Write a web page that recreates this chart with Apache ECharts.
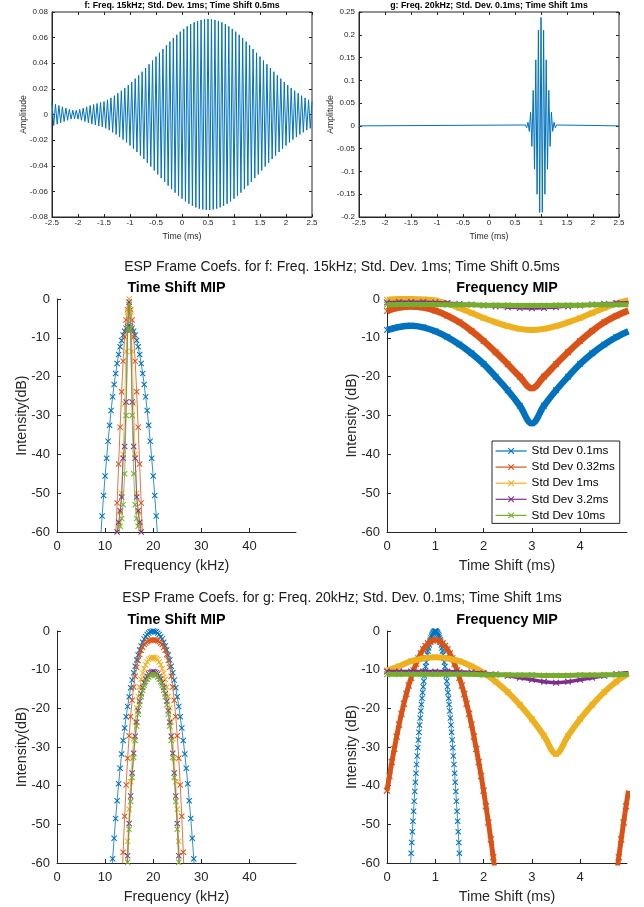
<!DOCTYPE html>
<html>
<head>
<meta charset="utf-8">
<title>ESP Frame Coefs</title>
<script src="https://cdn.jsdelivr.net/npm/echarts@6.0.0/dist/echarts.min.js"></script>
<style>
  html, body { margin: 0; padding: 0; background: #fff; }
  #chart { width: 644px; height: 907px; }
</style>
</head>
<body>
<div id="chart"></div>
<script>
// ---- values ----

// f: 15 kHz atom, one value per half cycle (the peaks), t = -2.5 .. 2.5 ms
const fSignalStart = -2.5;
const fSignalStep = 1 / 30;
const fSignal = [
  0.0092, -0.0086, 0.0080, -0.0075, 0.0070, -0.0065, 0.0060, -0.0055, 0.0050, -0.0045,
  0.0040, -0.0036, 0.0033, -0.0032, 0.0033, -0.0036, 0.0040, -0.0045, 0.0050, -0.0055,
  0.0060, -0.0065, 0.0070, -0.0074, 0.0078, -0.0082, 0.0086, -0.0090, 0.0094, -0.0098,
  0.0101, -0.0108, 0.0115, -0.0122, 0.0130, -0.0139, 0.0147, -0.0156, 0.0166, -0.0176,
  0.0186, -0.0196, 0.0207, -0.0218, 0.0230, -0.0242, 0.0254, -0.0267, 0.0280, -0.0293,
  0.0306, -0.0320, 0.0334, -0.0348, 0.0363, -0.0377, 0.0392, -0.0406, 0.0421, -0.0437,
  0.0452, -0.0467, 0.0482, -0.0497, 0.0511, -0.0526, 0.0541, -0.0555, 0.0569, -0.0583,
  0.0597, -0.0610, 0.0622, -0.0634, 0.0646, -0.0657, 0.0668, -0.0678, 0.0688, -0.0697,
  0.0705, -0.0712, 0.0719, -0.0725, 0.0730, -0.0735, 0.0738, -0.0741, 0.0743, -0.0745,
  0.0745,
  -0.0745, 0.0743, -0.0741, 0.0738, -0.0735, 0.0730, -0.0725, 0.0719, -0.0712, 0.0705,
  -0.0697, 0.0688, -0.0678, 0.0668, -0.0657, 0.0646, -0.0634, 0.0622, -0.0610, 0.0597,
  -0.0583, 0.0569, -0.0555, 0.0541, -0.0526, 0.0511, -0.0497, 0.0482, -0.0467, 0.0452,
  -0.0437, 0.0421, -0.0406, 0.0392, -0.0377, 0.0363, -0.0348, 0.0334, -0.0320, 0.0306,
  -0.0293, 0.0280, -0.0267, 0.0254, -0.0242, 0.0230, -0.0218, 0.0207, -0.0196, 0.0186,
  -0.0176, 0.0166, -0.0156, 0.0147, -0.0139, 0.0130, -0.0122, 0.0115, -0.0108, 0.0101
];

// g: 20 kHz burst around 1 ms, flat zero elsewhere
const gQuiet = [[-2.5, 0], [2.5, 0]];
const gBurstStart = 0.7;
const gBurstStep = 0.025;
const gBurst = [
  0.002, -0.004, 0.008, -0.012, 0.03, -0.045, 0.078, -0.095, 0.145, -0.15, 0.21, -0.19,
  0.238,
  -0.19, 0.21, -0.15, 0.145, -0.095, 0.078, -0.045, 0.03, -0.012, 0.008, -0.004, 0.002
];

const stdDevNames = ['Std Dev 0.1ms', 'Std Dev 0.32ms', 'Std Dev 1ms', 'Std Dev 3.2ms', 'Std Dev 10ms'];
const stdDevColors = ['#0072BD', '#D95319', '#EDB120', '#7E2F8E', '#77AC30'];

// frequency bins in kHz
const freqBin = 0.3125;

// Time Shift MIP for f (dB), each array starts at its own frequency bin
const fTsStartBin = [29, 39, 40, 39, 41];
const fTsStd01 = [-61.5, -55.9, -50.6, -45.6, -41.0, -36.6, -32.5, -28.7, -25.2, -22.0, -19.2, -16.6, -14.3, -12.3, -10.7, -9.3, -8.3, -7.5, -7.1,
  -6.9, -7.1, -7.5, -8.3, -9.3, -10.7, -12.3, -14.3, -16.6, -19.2, -22.0, -25.2, -28.7, -32.5, -36.6, -41.0, -45.6, -50.6, -55.9, -61.5];
const fTsStd032 = [-62, -52.5, -42.5, -33.0, -23.9, -16.0, -9.8, -5.4, -2.8, -1.9, -2.8, -5.4, -9.8, -16.0, -23.9, -33.0, -42.5, -52.5, -62];
const fTsStd1 = [-61, -58, -55, -50, -40, -27, -13.5, -3.4, 0, -3.4, -13.5, -27, -40, -50, -55, -58, -61];
const fTsStd32 = [-62, -60, -57.5, -54.5, -51, -41, -38, -26.5, -8, -0.8, -8, -26.5, -38, -41, -51, -54.5, -57.5, -60, -62];
const fTsStd10 = [-61, -58.5, -56.5, -53, -45, -30, -7.8, -1.4, -7.8, -30, -45, -53, -56.5, -58.5, -61];

// Frequency MIP for f (dB), time shift 0 .. 5 ms every 0.25 ms
const fFmStart = 0;
const fFmStep = 0.25;
const fFmStd01 = [-8.0, -7.2, -6.9, -7.3, -8.3, -9.8, -11.7, -14.0, -16.7, -20.0, -23.5, -27.5, -32.0, -27.5, -23.5, -20.0, -16.7, -14.0, -11.7, -9.8, -8.3];
const fFmStd032 = [-3.1, -2.2, -1.9, -2.2, -3.0, -4.3, -6.0, -8.2, -10.8, -13.7, -16.8, -20.0, -23.0, -20.0, -16.8, -13.7, -10.8, -8.2, -6.0, -4.3, -3.0];
const fFmStd1 = [-0.2, 0.0, 0.0, -0.1, -0.4, -1.2, -2.3, -3.6, -4.9, -6.0, -7.0, -7.7, -8.0, -7.7, -7.0, -6.0, -4.9, -3.6, -2.3, -1.2, -0.3];
const fFmStd32 = [-0.9, -0.8, -0.8, -0.8, -0.9, -1.0, -1.2, -1.4, -1.7, -1.9, -2.1, -2.3, -2.4, -2.3, -2.1, -1.9, -1.7, -1.4, -1.2, -1.0, -0.9];
const fFmStd10 = [-1.5, -1.4, -1.4, -1.4, -1.4, -1.5, -1.5, -1.5, -1.6, -1.6, -1.6, -1.7, -1.7, -1.7, -1.6, -1.6, -1.6, -1.5, -1.5, -1.5, -1.5];

// Time Shift MIP for g (dB)
const gTsStartBin = [36, 43, 46, 46, 46];
const gTsStd01 = [-64.7, -58.9, -53.6, -48.5, -43.9, -39.5, -35.5, -31.8, -28.3, -25.1, -22.2, -19.5, -17.0, -14.7, -12.7, -10.8, -9.1, -7.5, -6.2, -4.9, -3.9, -2.9, -2.1, -1.5, -0.9, -0.5, -0.2, -0.1,
  0,
  -0.1, -0.2, -0.5, -0.9, -1.5, -2.1, -2.9, -3.9, -4.9, -6.2, -7.5, -9.1, -10.8, -12.7, -14.7, -17.0, -19.5, -22.2, -25.1, -28.3, -31.8, -35.5, -39.5, -43.9, -48.5, -53.6, -58.9, -64.7];
const gTsStd032 = [-68.0, -57.2, -47.9, -39.8, -32.9, -27.1, -22.1, -17.9, -14.5, -11.7, -9.4, -7.6, -6.1, -5.0, -4.2, -3.5, -3.1, -2.8, -2.5, -2.4, -2.3,
  -2.3,
  -2.3, -2.4, -2.5, -2.8, -3.1, -3.5, -4.2, -5.0, -6.1, -7.6, -9.4, -11.7, -14.5, -17.9, -22.1, -27.1, -32.9, -39.8, -47.9, -57.2, -68.0];
const gTsStd1 = [-64.0, -54.4, -46.1, -39.0, -33.0, -27.9, -23.5, -19.9, -16.9, -14.5, -12.5, -10.9, -9.7, -8.7, -8.0, -7.4, -7.1, -6.9,
  -6.8,
  -6.9, -7.1, -7.4, -8.0, -8.7, -9.7, -10.9, -12.5, -14.5, -16.9, -19.9, -23.5, -27.9, -33.0, -39.0, -46.1, -54.4, -64.0];
const gTsStd32 = [-67.7, -58.1, -49.8, -42.7, -36.7, -31.6, -27.2, -23.6, -20.6, -18.2, -16.2, -14.6, -13.4, -12.4, -11.7, -11.1, -10.8, -10.6,
  -10.5,
  -10.6, -10.8, -11.1, -11.7, -12.4, -13.4, -14.6, -16.2, -18.2, -20.6, -23.6, -27.2, -31.6, -36.7, -42.7, -49.8, -58.1, -67.7];
const gTsStd10 = [-69.5, -59.8, -51.3, -44.1, -37.9, -32.7, -28.3, -24.6, -21.5, -19.1, -17.0, -15.4, -14.1, -13.1, -12.4, -11.9, -11.5, -11.3,
  -11.2,
  -11.3, -11.5, -11.9, -12.4, -13.1, -14.1, -15.4, -17.0, -19.1, -21.5, -24.6, -28.3, -32.7, -37.9, -44.1, -51.3, -59.8, -69.5];

// Frequency MIP for g (dB)
const gFmStd01Start = 0.475;
const gFmStd01Step = 0.0125;
const gFmStd01 = [-63.4, -60.4, -57.5, -54.7, -51.9, -49.2, -46.6, -44.0, -41.5, -39.1, -36.8, -34.5, -32.3, -30.2, -28.2, -26.2, -24.3, -22.5, -20.7, -19.0, -17.4,
  -15.9, -14.4, -13.0, -11.6, -10.4, -9.2, -8.1, -7.0, -6.1, -5.2, -4.4, -3.6, -2.9, -2.3, -1.8, -1.3, -0.9, -0.6, -0.3, -0.1, -0.04,
  0,
  -0.04, -0.1, -0.3, -0.6, -0.9, -1.3, -1.8, -2.3, -2.9, -3.6, -4.4, -5.2, -6.1, -7.0, -8.1, -9.2, -10.4, -11.6, -13.0, -14.4, -15.9,
  -17.4, -19.0, -20.7, -22.5, -24.3, -26.2, -28.2, -30.2, -32.3, -34.5, -36.8, -39.1, -41.5, -44.0, -46.6, -49.2, -51.9, -54.7, -57.5, -60.4, -63.4];
const gFmStd032Step = 0.05;
const gFmStd032Head = [-41.3, -37.5, -33.9, -30.5, -27.3, -24.2, -21.4, -18.8, -16.3, -14.1, -12.1, -10.2, -8.5, -7.1, -5.8, -4.7, -3.9, -3.2, -2.7, -2.4,
  -2.3,
  -2.4, -2.7, -3.2, -3.9, -4.7, -5.8, -7.1, -8.5, -10.2, -12.1, -14.1, -16.3, -18.8, -21.4, -24.2, -27.3, -30.5, -33.9, -37.5, -41.3,
  -45.3, -49.5, -53.9, -58.5, -63.2];
const gFmStd032TailStart = 4.75;
const gFmStd032Tail = [-63.2, -58.5, -53.9, -49.5, -45.3, -41.3];
const gFmStart = 0;
const gFmStep = 0.25;
const gFmStd1 = [-10.2, -9.1, -7.8, -7.1, -6.8, -7.1, -7.8, -9.1, -10.8, -13.1, -15.8, -19.1, -22.8, -27.1, -31.8, -27.1, -22.8, -19.1, -15.8, -13.1, -11.0];
const gFmStd32 = [-10.5, -10.5, -10.5, -10.5, -10.5, -10.5, -10.6, -10.7, -10.9, -11.2, -11.6, -12.1, -12.6, -13.1, -13.4, -13.1, -12.6, -12.1, -11.6, -11.1, -10.7];
const gFmStd10 = [-11.2, -11.2, -11.2, -11.2, -11.2, -11.2, -11.2, -11.2, -11.3, -11.3, -11.3, -11.4, -11.4, -11.5, -11.5, -11.5, -11.4, -11.4, -11.3, -11.3, -11.2];

// tick labels
const sigTimeTicks = [-2.5, -2, -1.5, -1, -0.5, 0, 0.5, 1, 1.5, 2, 2.5];
const fAmpTicks = [-0.08, -0.06, -0.04, -0.02, 0, 0.02, 0.04, 0.06, 0.08];
const gAmpTicks = [-0.2, -0.15, -0.1, -0.05, 0, 0.05, 0.1, 0.15, 0.2, 0.25];
const freqTicks = [0, 10, 20, 30, 40];
const shiftTicks = [0, 1, 2, 3, 4];
const dbTicks = [-60, -50, -40, -30, -20, -10, 0];

// ---- chart ----
const AXIS_COLOR = '#262626';
const FONT = '"Liberation Sans", Arial, Helvetica, sans-serif';
const X_MARK = 'path://M0,1.2L1.2,0L5,3.8L8.8,0L10,1.2L6.2,5L10,8.8L8.8,10L5,6.2L1.2,10L0,8.8L3.8,5Z';

const onGrid = (start, step, values) => values.map((v, i) => [+(start + i * step).toFixed(6), v]);
const onBins = (startBin, values) => onGrid(startBin * freqBin, freqBin, values);

function axis(o) {
  return {
    type: 'value',
    gridIndex: o.grid,
    position: o.position,
    min: o.min,
    max: o.max,
    name: o.name || '',
    nameLocation: 'middle',
    nameGap: o.nameGap,
    nameMoveOverlap: false,
    nameTextStyle: { color: AXIS_COLOR, fontFamily: FONT, fontSize: o.nameSize },
    axisLine: { show: o.line !== false, onZero: false, lineStyle: { color: AXIS_COLOR, width: 1 } },
    axisTick: { show: true, inside: true, length: o.tick, customValues: o.ticks, lineStyle: { color: AXIS_COLOR } },
    axisLabel: {
      show: o.labels !== false, customValues: o.ticks, color: AXIS_COLOR,
      fontFamily: FONT, fontSize: o.labelSize, margin: o.margin, hideOverlap: false
    },
    splitLine: { show: false }
  };
}

function mip(panel, k, data, look) {
  const color = stdDevColors[k];
  return {
    name: stdDevNames[k],
    type: 'line',
    xAxisIndex: panel,
    yAxisIndex: panel,
    data: data,
    symbol: X_MARK,
    symbolSize: look.mark || 6,
    symbolKeepAspect: true,
    showSymbol: true,
    smooth: look.smooth || false,
    lineStyle: { color: color, width: look.width || 0.8 },
    itemStyle: { color: color, borderWidth: 0 },
    emphasis: { disabled: true },
    z: 2 + k
  };
}

function text(x, y, str, size, bold, color) {
  return {
    type: 'text', x: x, y: y, silent: true,
    style: {
      text: str, fill: color || '#000',
      font: (bold ? 'bold ' : '') + size + 'px ' + FONT,
      textAlign: 'center', align: 'center', textVerticalAlign: 'middle', verticalAlign: 'middle'
    }
  };
}

const grids = [
  { left: 52, top: 12, width: 260, height: 205, show: true, borderColor: AXIS_COLOR, borderWidth: 1 },
  { left: 359, top: 12, width: 260, height: 205, show: true, borderColor: AXIS_COLOR, borderWidth: 1 },
  { left: 57, top: 299, width: 239, height: 233 },
  { left: 387, top: 299, width: 240, height: 233 },
  { left: 57, top: 631, width: 239, height: 232 },
  { left: 387, top: 631, width: 240, height: 232 }
].map(g => Object.assign({ outerBoundsMode: 'none', containLabel: false }, g));

const small = { nameSize: 8.7, labelSize: 8, tick: 3 };
const big = { nameSize: 14.3, labelSize: 13, tick: 4 };

const xAxes = [
  axis(Object.assign({ grid: 0, position: 'bottom', min: -2.5, max: 2.5, ticks: sigTimeTicks, name: 'Time (ms)', nameGap: 15, margin: 2 }, small)),
  axis(Object.assign({ grid: 1, position: 'bottom', min: -2.5, max: 2.5, ticks: sigTimeTicks, name: 'Time (ms)', nameGap: 15, margin: 2 }, small)),
  axis(Object.assign({ grid: 2, position: 'bottom', min: 0, max: 49.6875, ticks: freqTicks, name: 'Frequency (kHz)', nameGap: 27, margin: 8 }, big)),
  axis(Object.assign({ grid: 3, position: 'bottom', min: 0, max: 4.97, ticks: shiftTicks, name: 'Time Shift (ms)', nameGap: 27, margin: 8 }, big)),
  axis(Object.assign({ grid: 4, position: 'bottom', min: 0, max: 49.6875, ticks: freqTicks, name: 'Frequency (kHz)', nameGap: 27, margin: 8 }, big)),
  axis(Object.assign({ grid: 5, position: 'bottom', min: 0, max: 4.97, ticks: shiftTicks, name: 'Time Shift (ms)', nameGap: 27, margin: 8 }, big)),
  axis(Object.assign({ grid: 0, position: 'top', min: -2.5, max: 2.5, ticks: sigTimeTicks, line: false, labels: false }, small)),
  axis(Object.assign({ grid: 1, position: 'top', min: -2.5, max: 2.5, ticks: sigTimeTicks, line: false, labels: false }, small))
];

const yAxes = [
  axis(Object.assign({ grid: 0, position: 'left', min: -0.08, max: 0.08, ticks: fAmpTicks, name: 'Amplitude', nameGap: 24, margin: 4 }, small)),
  axis(Object.assign({ grid: 1, position: 'left', min: -0.2, max: 0.25, ticks: gAmpTicks, name: 'Amplitude', nameGap: 24, margin: 4 }, small)),
  axis(Object.assign({ grid: 2, position: 'left', min: -60, max: 0, ticks: dbTicks, name: 'Intensity(dB)', nameGap: 28, margin: 7 }, big)),
  axis(Object.assign({ grid: 3, position: 'left', min: -60, max: 0, ticks: dbTicks, name: 'Intensity (dB)', nameGap: 28, margin: 7 }, big)),
  axis(Object.assign({ grid: 4, position: 'left', min: -60, max: 0, ticks: dbTicks, name: 'Intensity(dB)', nameGap: 28, margin: 7 }, big)),
  axis(Object.assign({ grid: 5, position: 'left', min: -60, max: 0, ticks: dbTicks, name: 'Intensity (dB)', nameGap: 28, margin: 7 }, big)),
  axis(Object.assign({ grid: 0, position: 'right', min: -0.08, max: 0.08, ticks: fAmpTicks, line: false, labels: false }, small)),
  axis(Object.assign({ grid: 1, position: 'right', min: -0.2, max: 0.25, ticks: gAmpTicks, line: false, labels: false }, small))
];

const signalLine = { type: 'line', symbol: 'none', lineStyle: { color: '#0072BD', width: 1 }, itemStyle: { color: '#0072BD' }, emphasis: { disabled: true }, legendHoverLink: false };

const fTsArrays = [fTsStd01, fTsStd032, fTsStd1, fTsStd32, fTsStd10];
const fFmArrays = [fFmStd01, fFmStd032, fFmStd1, fFmStd32, fFmStd10];
const gTsArrays = [gTsStd01, gTsStd032, gTsStd1, gTsStd32, gTsStd10];

const bandWidthsF = [6.5, 6.5, 6, 3, 5];

const series = [];
// middle-left first so that the legend takes its thin line + cross style
fTsArrays.forEach((vals, k) => series.push(mip(2, k, onBins(fTsStartBin[k], vals), {})));
fFmArrays.forEach((vals, k) => series.push(mip(3, k, onGrid(fFmStart, fFmStep, vals), { width: bandWidthsF[k], mark: 6.5, smooth: 0.4 })));
gTsArrays.forEach((vals, k) => series.push(mip(4, k, onBins(gTsStartBin[k], vals), {})));
series.push(mip(5, 0, onGrid(gFmStd01Start, gFmStd01Step, gFmStd01), {}));
series.push(mip(5, 1, onGrid(0, gFmStd032Step, gFmStd032Head).concat([[3.5, '-']], onGrid(gFmStd032TailStart, gFmStd032Step, gFmStd032Tail)), { width: 5, mark: 7 }));
series.push(mip(5, 2, onGrid(gFmStart, gFmStep, gFmStd1), { width: 6, mark: 6.5, smooth: 0.35 }));
series.push(mip(5, 3, onGrid(gFmStart, gFmStep, gFmStd32), { width: 3.5, mark: 6.5, smooth: 0.4 }));
series.push(mip(5, 4, onGrid(gFmStart, gFmStep, gFmStd10), { width: 5, mark: 6.5, smooth: 0.4 }));

series.push(Object.assign({ xAxisIndex: 0, yAxisIndex: 0, data: onGrid(fSignalStart, fSignalStep, fSignal) }, signalLine));
series.push(Object.assign({ xAxisIndex: 1, yAxisIndex: 1, data: [gQuiet[0]].concat(onGrid(gBurstStart, gBurstStep, gBurst), [gQuiet[1]]) }, signalLine));

const chart = echarts.init(document.getElementById('chart'), null, { renderer: 'canvas' });
chart.setOption({
  animation: false,
  backgroundColor: '#fff',
  textStyle: { fontFamily: FONT },
  grid: grids,
  xAxis: xAxes,
  yAxis: yAxes,
  legend: {
    data: stdDevNames,
    orient: 'vertical',
    left: 492,
    top: 441,
    padding: [4, 5, 2, 3],
    itemWidth: 31,
    itemHeight: 8,
    itemGap: 4.1,
    selectedMode: false,
    backgroundColor: '#fff',
    borderColor: AXIS_COLOR,
    borderWidth: 1,
    borderRadius: 0,
    lineStyle: { width: 1.2 },
    textStyle: { fontFamily: FONT, fontSize: 11.7, color: '#000' },
    z: 20
  },
  graphic: [
    text(182, 6, 'f: Freq. 15kHz; Std. Dev. 1ms; Time Shift 0.5ms', 8.8, true),
    text(489, 6, 'g: Freq. 20kHz; Std. Dev. 0.1ms; Time Shift 1ms', 8.8, true),
    text(342, 267, 'ESP Frame Coefs. for f: Freq. 15kHz; Std. Dev. 1ms; Time Shift 0.5ms', 14, false, '#1a1a1a'),
    text(176.5, 288, 'Time Shift MIP', 14.3, true),
    text(507, 288, 'Frequency MIP', 14.3, true),
    text(342, 598, 'ESP Frame Coefs. for g: Freq. 20kHz; Std. Dev. 0.1ms; Time Shift 1ms', 14, false, '#1a1a1a'),
    text(176.5, 620, 'Time Shift MIP', 14.3, true),
    text(507, 620, 'Frequency MIP', 14.3, true)
  ],
  series: series
});
</script>
</body>
</html>
